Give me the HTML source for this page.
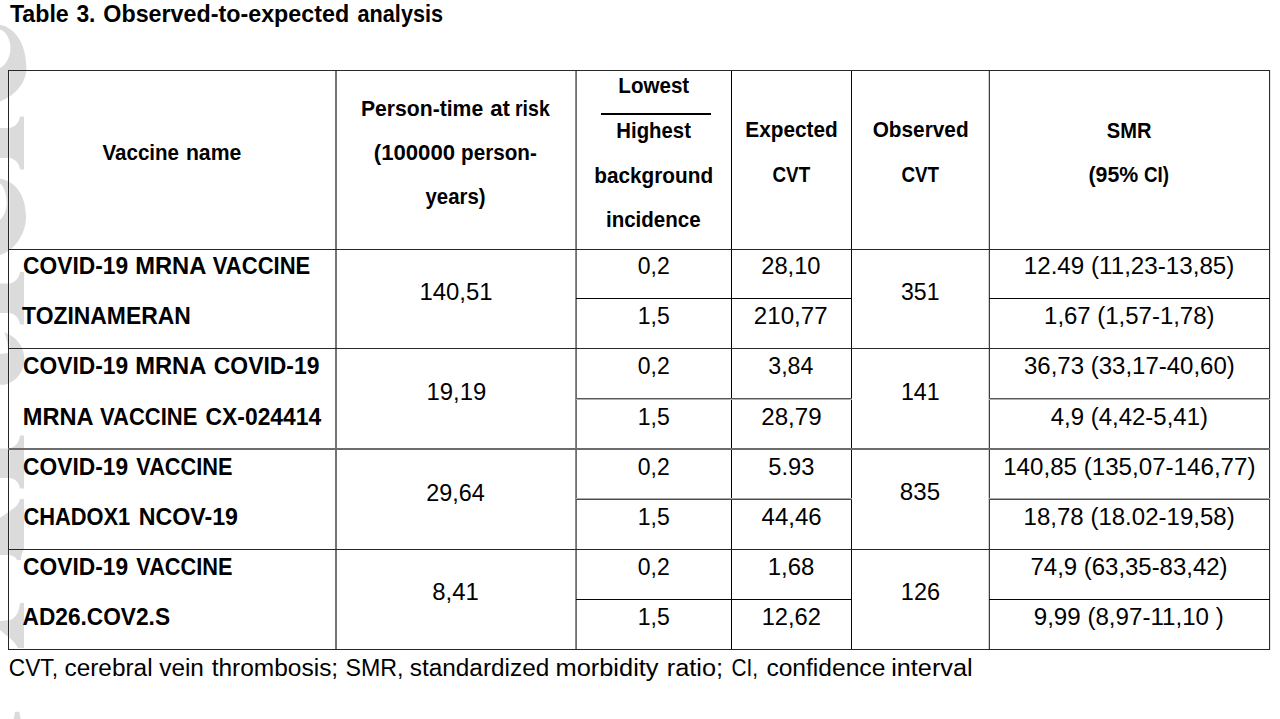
<!DOCTYPE html>
<html><head><meta charset="utf-8"><style>
html,body{margin:0;padding:0;background:#fff;width:1280px;height:719px;overflow:hidden}
svg{display:block}
text{font-family:"Liberation Sans",sans-serif;fill:#000}
</style></head><body>
<svg width="1280" height="719" viewBox="0 0 1280 719">
<g fill="#dbdbdb"><path fill-rule="evenodd" d="M0,24.7 C16,28 26.4,45 26.4,68 C26.4,84 13,97 0,101.4 Z M0,29.4 C6,31 10.4,39 10.4,48 C10.4,57 6,65 0,68 Z"/>
<path d="M0,128 L9,128 C15,127 19,123 20,116.4 L24,116.4 L24,169.4 L20,169.4 C19,163 15,158.5 9,158 L0,158 Z"/>
<path fill-rule="evenodd" d="M0,178.7 C16,181 26,196 26,217 C26,236 12,252 0,255 Z M0,183.4 C4,186 6.7,195 6.7,203 C6.7,210 4,216 0,220 Z"/>
<path d="M0,283.5 L9,283.5 C15,282.5 19,278.5 20,272 L24,272 L24,324.5 L20,324.5 C19,318 15,313.5 9,313 L0,313 Z"/>
<path d="M4,332.4 C14,335 24.3,345 24.3,358 C24.3,372 16,382 5,384.7 L0,384.7 L0,354 L8,353 C8.3,345 7,337 4,332.4 Z"/>
<path d="M0,448.5 L9,448.5 C15,447.5 19,443 20,435.5 L24,435.5 L24,488.5 L20,488.5 C19,482 15,478.5 9,478 L0,478 Z"/>
<path d="M0,518 L14,508 C17,506 19,503 20,499 L24,499 L24,549 C22,552 21,556 21,560 L17,560 C16,557 12,555 6,555 L0,555 Z"/>
<path d="M0,621 L10,620 C16,618 19,612 20,603 L24,603 L24,648 L18,648 C17,646 15,643 12,640 L0,630 Z"/>
<path d="M15,711.7 L19.3,711.7 L20.7,719 L13.7,719 Z"/>
</g>
<rect x="9" y="71" width="1" height="578" fill="#fff" fill-opacity="0.4"/><rect x="8" y="70" width="1" height="580" fill="#252525"/><rect x="335" y="70" width="2" height="580" fill="#747474"/><rect x="575" y="70" width="1" height="580" fill="#8a8a8a"/><rect x="576" y="70" width="1" height="580" fill="#707070"/><rect x="731" y="70" width="1" height="580" fill="#000"/><rect x="851" y="70" width="1" height="580" fill="#0a0a0a"/><rect x="988" y="70" width="1" height="580" fill="#d0d0d0"/><rect x="989" y="70" width="1" height="580" fill="#3c3c3c"/><rect x="1269" y="70" width="1" height="580" fill="#2d2d2d"/><rect x="1270" y="70" width="1" height="580" fill="#e6e6e6"/><rect x="8" y="70" width="1262" height="1" fill="#282828"/><rect x="8" y="249" width="1262" height="1" fill="#262626"/><rect x="8" y="348" width="1262" height="1" fill="#2a2a2a"/><rect x="8" y="448" width="1262" height="1" fill="#6c6c6c"/><rect x="8" y="449" width="1262" height="1" fill="#6c6c6c"/><rect x="8" y="549" width="1262" height="1" fill="#282828"/><rect x="8" y="649" width="1262" height="1" fill="#252525"/><rect x="576" y="298" width="276" height="1" fill="#050505"/><rect x="989" y="298" width="281" height="1" fill="#050505"/><rect x="576" y="398" width="276" height="1" fill="#585858"/><rect x="989" y="398" width="281" height="1" fill="#585858"/><rect x="576" y="399" width="276" height="1" fill="#b0b0b0"/><rect x="989" y="399" width="281" height="1" fill="#b0b0b0"/><rect x="576" y="498" width="276" height="1" fill="#aaaaaa"/><rect x="989" y="498" width="281" height="1" fill="#aaaaaa"/><rect x="576" y="499" width="276" height="1" fill="#4c4c4c"/><rect x="989" y="499" width="281" height="1" fill="#4c4c4c"/><rect x="576" y="599" width="276" height="1" fill="#050505"/><rect x="989" y="599" width="281" height="1" fill="#050505"/><rect x="601" y="113" width="110" height="2" fill="#000"/>
<text x="9.90" y="21.50" font-size="24" font-weight="bold" textLength="58.84" lengthAdjust="spacingAndGlyphs" xml:space="preserve">Table</text>
<text x="76.40" y="21.50" font-size="24" font-weight="bold" textLength="19.04" lengthAdjust="spacingAndGlyphs" xml:space="preserve">3.</text>
<text x="103.30" y="21.50" font-size="24" font-weight="bold" textLength="245.84" lengthAdjust="spacingAndGlyphs" xml:space="preserve">Observed-to-expected</text>
<text x="357.50" y="21.50" font-size="24" font-weight="bold" textLength="85.61" lengthAdjust="spacingAndGlyphs" xml:space="preserve">analysis</text>
<text x="102.50" y="160.00" font-size="21.7" font-weight="bold" textLength="76.56" lengthAdjust="spacingAndGlyphs" xml:space="preserve">Vaccine</text>
<text x="185.92" y="160.00" font-size="21.7" font-weight="bold" textLength="55.39" lengthAdjust="spacingAndGlyphs" xml:space="preserve">name</text>
<text x="361.03" y="115.50" font-size="21.7" font-weight="bold" textLength="122.13" lengthAdjust="spacingAndGlyphs" xml:space="preserve">Person-time</text>
<text x="490.20" y="115.50" font-size="21.7" font-weight="bold" textLength="19.73" lengthAdjust="spacingAndGlyphs" xml:space="preserve">at</text>
<text x="515.00" y="115.50" font-size="21.7" font-weight="bold" textLength="34.76" lengthAdjust="spacingAndGlyphs" xml:space="preserve">risk</text>
<text x="373.78" y="160.00" font-size="21.7" font-weight="bold" textLength="81.28" lengthAdjust="spacingAndGlyphs" xml:space="preserve">(100000</text>
<text x="461.05" y="160.00" font-size="21.7" font-weight="bold" textLength="75.76" lengthAdjust="spacingAndGlyphs" xml:space="preserve">person-</text>
<text x="425.50" y="204.00" font-size="21.7" font-weight="bold" textLength="60.01" lengthAdjust="spacingAndGlyphs" xml:space="preserve">years)</text>
<text x="618.35" y="93.20" font-size="21.7" font-weight="bold" textLength="70.86" lengthAdjust="spacingAndGlyphs" xml:space="preserve">Lowest</text>
<text x="616.36" y="137.50" font-size="21.7" font-weight="bold" textLength="74.55" lengthAdjust="spacingAndGlyphs" xml:space="preserve">Highest</text>
<text x="594.29" y="182.50" font-size="21.7" font-weight="bold" textLength="118.80" lengthAdjust="spacingAndGlyphs" xml:space="preserve">background</text>
<text x="605.95" y="226.50" font-size="21.7" font-weight="bold" textLength="94.70" lengthAdjust="spacingAndGlyphs" xml:space="preserve">incidence</text>
<text x="745.34" y="137.30" font-size="21.7" font-weight="bold" textLength="92.45" lengthAdjust="spacingAndGlyphs" xml:space="preserve">Expected</text>
<text x="772.50" y="182.00" font-size="21.7" font-weight="bold" textLength="37.65" lengthAdjust="spacingAndGlyphs" xml:space="preserve">CVT</text>
<text x="872.70" y="137.30" font-size="21.7" font-weight="bold" textLength="95.90" lengthAdjust="spacingAndGlyphs" xml:space="preserve">Observed</text>
<text x="901.40" y="182.00" font-size="21.7" font-weight="bold" textLength="37.65" lengthAdjust="spacingAndGlyphs" xml:space="preserve">CVT</text>
<text x="1106.80" y="137.70" font-size="21.7" font-weight="bold" textLength="44.69" lengthAdjust="spacingAndGlyphs" xml:space="preserve">SMR</text>
<text x="1088.52" y="182.10" font-size="21.7" font-weight="bold" textLength="49.76" lengthAdjust="spacingAndGlyphs" xml:space="preserve">(95%</text>
<text x="1143.90" y="182.10" font-size="21.7" font-weight="bold" textLength="24.99" lengthAdjust="spacingAndGlyphs" xml:space="preserve">CI)</text>
<text x="23.10" y="274.20" font-size="23.3" font-weight="bold" textLength="104.96" lengthAdjust="spacingAndGlyphs" xml:space="preserve">COVID-19</text>
<text x="135.23" y="274.20" font-size="23.3" font-weight="bold" textLength="71.19" lengthAdjust="spacingAndGlyphs" xml:space="preserve">MRNA</text>
<text x="212.80" y="274.20" font-size="23.3" font-weight="bold" textLength="97.41" lengthAdjust="spacingAndGlyphs" xml:space="preserve">VACCINE</text>
<text x="22.10" y="324.30" font-size="23.3" font-weight="bold" textLength="168.71" lengthAdjust="spacingAndGlyphs" xml:space="preserve">TOZINAMERAN</text>
<text x="23.10" y="374.40" font-size="23.3" font-weight="bold" textLength="104.96" lengthAdjust="spacingAndGlyphs" xml:space="preserve">COVID-19</text>
<text x="135.23" y="374.40" font-size="23.3" font-weight="bold" textLength="71.19" lengthAdjust="spacingAndGlyphs" xml:space="preserve">MRNA</text>
<text x="213.75" y="374.40" font-size="23.3" font-weight="bold" textLength="105.71" lengthAdjust="spacingAndGlyphs" xml:space="preserve">COVID-19</text>
<text x="22.74" y="424.50" font-size="23.3" font-weight="bold" textLength="70.84" lengthAdjust="spacingAndGlyphs" xml:space="preserve">MRNA</text>
<text x="100.00" y="424.50" font-size="23.3" font-weight="bold" textLength="97.41" lengthAdjust="spacingAndGlyphs" xml:space="preserve">VACCINE</text>
<text x="205.60" y="424.50" font-size="23.3" font-weight="bold" textLength="115.61" lengthAdjust="spacingAndGlyphs" xml:space="preserve">CX-024414</text>
<text x="23.10" y="474.60" font-size="23.3" font-weight="bold" textLength="104.96" lengthAdjust="spacingAndGlyphs" xml:space="preserve">COVID-19</text>
<text x="136.25" y="474.60" font-size="23.3" font-weight="bold" textLength="96.25" lengthAdjust="spacingAndGlyphs" xml:space="preserve">VACCINE</text>
<text x="23.40" y="524.70" font-size="23.3" font-weight="bold" textLength="106.86" lengthAdjust="spacingAndGlyphs" xml:space="preserve">CHADOX1</text>
<text x="138.70" y="524.70" font-size="23.3" font-weight="bold" textLength="99.35" lengthAdjust="spacingAndGlyphs" xml:space="preserve">NCOV-19</text>
<text x="23.10" y="574.80" font-size="23.3" font-weight="bold" textLength="104.96" lengthAdjust="spacingAndGlyphs" xml:space="preserve">COVID-19</text>
<text x="136.25" y="574.80" font-size="23.3" font-weight="bold" textLength="96.25" lengthAdjust="spacingAndGlyphs" xml:space="preserve">VACCINE</text>
<text x="22.50" y="624.90" font-size="23.3" font-weight="bold" textLength="147.52" lengthAdjust="spacingAndGlyphs" xml:space="preserve">AD26.COV2.S</text>
<text x="419.47" y="299.75" font-size="23.3" textLength="73.11" lengthAdjust="spacingAndGlyphs" xml:space="preserve">140,51</text>
<text x="426.58" y="400.20" font-size="23.3" textLength="59.70" lengthAdjust="spacingAndGlyphs" xml:space="preserve">19,19</text>
<text x="426.20" y="500.50" font-size="23.3" textLength="58.56" lengthAdjust="spacingAndGlyphs" xml:space="preserve">29,64</text>
<text x="432.27" y="599.80" font-size="23.3" textLength="46.51" lengthAdjust="spacingAndGlyphs" xml:space="preserve">8,41</text>
<text x="637.80" y="274.20" font-size="23.3" textLength="31.94" lengthAdjust="spacingAndGlyphs" xml:space="preserve">0,2</text>
<text x="637.76" y="324.30" font-size="23.3" textLength="31.98" lengthAdjust="spacingAndGlyphs" xml:space="preserve">1,5</text>
<text x="637.80" y="374.40" font-size="23.3" textLength="31.94" lengthAdjust="spacingAndGlyphs" xml:space="preserve">0,2</text>
<text x="637.76" y="424.50" font-size="23.3" textLength="31.98" lengthAdjust="spacingAndGlyphs" xml:space="preserve">1,5</text>
<text x="637.80" y="474.60" font-size="23.3" textLength="31.94" lengthAdjust="spacingAndGlyphs" xml:space="preserve">0,2</text>
<text x="637.76" y="524.70" font-size="23.3" textLength="31.98" lengthAdjust="spacingAndGlyphs" xml:space="preserve">1,5</text>
<text x="637.80" y="574.80" font-size="23.3" textLength="31.94" lengthAdjust="spacingAndGlyphs" xml:space="preserve">0,2</text>
<text x="637.76" y="624.90" font-size="23.3" textLength="31.98" lengthAdjust="spacingAndGlyphs" xml:space="preserve">1,5</text>
<text x="761.28" y="274.20" font-size="23.3" textLength="59.27" lengthAdjust="spacingAndGlyphs" xml:space="preserve">28,10</text>
<text x="753.87" y="324.30" font-size="23.3" textLength="73.72" lengthAdjust="spacingAndGlyphs" xml:space="preserve">210,77</text>
<text x="768.30" y="374.40" font-size="23.3" textLength="45.06" lengthAdjust="spacingAndGlyphs" xml:space="preserve">3,84</text>
<text x="761.27" y="424.50" font-size="23.3" textLength="60.32" lengthAdjust="spacingAndGlyphs" xml:space="preserve">28,79</text>
<text x="768.30" y="474.60" font-size="23.3" textLength="46.07" lengthAdjust="spacingAndGlyphs" xml:space="preserve">5.93</text>
<text x="761.60" y="524.70" font-size="23.3" textLength="59.98" lengthAdjust="spacingAndGlyphs" xml:space="preserve">44,46</text>
<text x="767.77" y="574.80" font-size="23.3" textLength="46.61" lengthAdjust="spacingAndGlyphs" xml:space="preserve">1,68</text>
<text x="761.68" y="624.90" font-size="23.3" textLength="59.29" lengthAdjust="spacingAndGlyphs" xml:space="preserve">12,62</text>
<text x="901.00" y="300.00" font-size="23.3" textLength="38.45" lengthAdjust="spacingAndGlyphs" xml:space="preserve">351</text>
<text x="900.90" y="400.10" font-size="23.3" textLength="38.80" lengthAdjust="spacingAndGlyphs" xml:space="preserve">141</text>
<text x="899.87" y="500.10" font-size="23.3" textLength="40.22" lengthAdjust="spacingAndGlyphs" xml:space="preserve">835</text>
<text x="900.89" y="599.70" font-size="23.3" textLength="39.17" lengthAdjust="spacingAndGlyphs" xml:space="preserve">126</text>
<text x="1023.76" y="274.20" font-size="23.3" textLength="210.62" lengthAdjust="spacingAndGlyphs" xml:space="preserve">12.49 (11,23-13,85)</text>
<text x="1044.07" y="324.30" font-size="23.3" textLength="170.41" lengthAdjust="spacingAndGlyphs" xml:space="preserve">1,67 (1,57-1,78)</text>
<text x="1024.00" y="374.40" font-size="23.3" textLength="210.78" lengthAdjust="spacingAndGlyphs" xml:space="preserve">36,73 (33,17-40,60)</text>
<text x="1050.80" y="424.50" font-size="23.3" textLength="157.18" lengthAdjust="spacingAndGlyphs" xml:space="preserve">4,9 (4,42-5,41)</text>
<text x="1003.16" y="474.60" font-size="23.3" textLength="252.32" lengthAdjust="spacingAndGlyphs" xml:space="preserve">140,85 (135,07-146,77)</text>
<text x="1023.57" y="524.70" font-size="23.3" textLength="211.11" lengthAdjust="spacingAndGlyphs" xml:space="preserve">18,78 (18.02-19,58)</text>
<text x="1030.57" y="574.80" font-size="23.3" textLength="196.91" lengthAdjust="spacingAndGlyphs" xml:space="preserve">74,9 (63,35-83,42)</text>
<text x="1033.76" y="624.90" font-size="23.3" textLength="190.02" lengthAdjust="spacingAndGlyphs" xml:space="preserve">9,99 (8,97-11,10 )</text>
<text x="8.81" y="675.50" font-size="23" textLength="49.16" lengthAdjust="spacingAndGlyphs" xml:space="preserve">CVT,</text>
<text x="64.50" y="675.50" font-size="23" textLength="88.08" lengthAdjust="spacingAndGlyphs" xml:space="preserve">cerebral</text>
<text x="159.20" y="675.50" font-size="23" textLength="44.74" lengthAdjust="spacingAndGlyphs" xml:space="preserve">vein</text>
<text x="211.70" y="675.50" font-size="23" textLength="126.48" lengthAdjust="spacingAndGlyphs" xml:space="preserve">thrombosis;</text>
<text x="345.49" y="675.50" font-size="23" textLength="58.01" lengthAdjust="spacingAndGlyphs" xml:space="preserve">SMR,</text>
<text x="409.80" y="675.50" font-size="23" textLength="139.44" lengthAdjust="spacingAndGlyphs" xml:space="preserve">standardized</text>
<text x="555.50" y="675.50" font-size="23" textLength="103.05" lengthAdjust="spacingAndGlyphs" xml:space="preserve">morbidity</text>
<text x="666.80" y="675.50" font-size="23" textLength="56.33" lengthAdjust="spacingAndGlyphs" xml:space="preserve">ratio;</text>
<text x="731.50" y="675.50" font-size="23" textLength="26.56" lengthAdjust="spacingAndGlyphs" xml:space="preserve">CI,</text>
<text x="766.40" y="675.50" font-size="23" textLength="118.95" lengthAdjust="spacingAndGlyphs" xml:space="preserve">confidence</text>
<text x="891.20" y="675.50" font-size="23" textLength="81.42" lengthAdjust="spacingAndGlyphs" xml:space="preserve">interval</text>
</svg>
</body></html>
